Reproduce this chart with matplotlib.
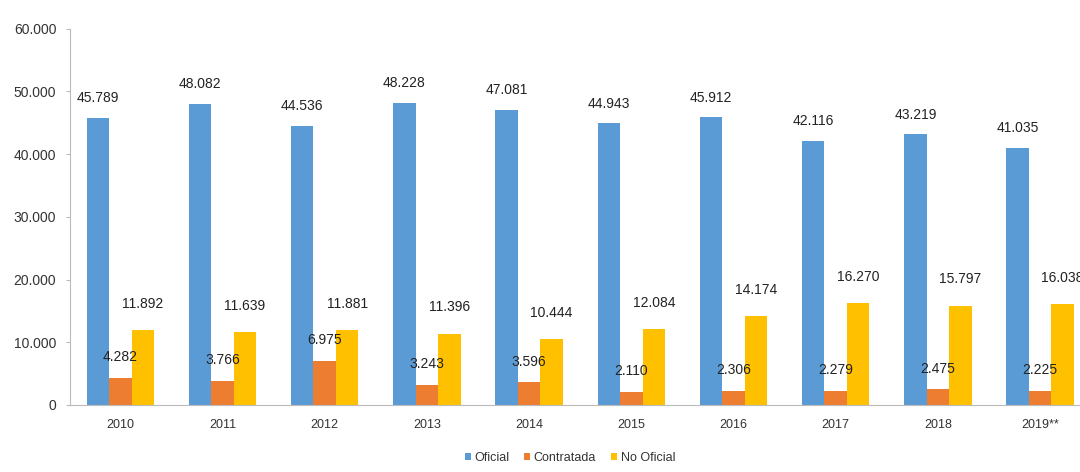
import matplotlib
matplotlib.use('Agg')
import matplotlib.pyplot as plt
import numpy as np

years = ["2010", "2011", "2012", "2013", "2014", "2015", "2016", "2017", "2018", "2019**"]
oficial = [45789, 48082, 44536, 48228, 47081, 44943, 45912, 42116, 43219, 41035]
contratada = [4282, 3766, 6975, 3243, 3596, 2110, 2306, 2279, 2475, 2225]
no_oficial = [11892, 11639, 11881, 11396, 10444, 12084, 14174, 16270, 15797, 16038]


def miles(v):
    return "{:,}".format(int(v)).replace(",", ".")


plt.rcParams['font.family'] = ['Liberation Sans', 'DejaVu Sans']

fig = plt.figure(figsize=(10.8, 4.72), dpi=100)
ax = fig.add_axes([0.065, 0.142, 0.935, 0.797])

x = np.arange(len(years))
w = 0.22
series = [
    ("Oficial", oficial, "#5B9BD5", -w, 9),
    ("Contratada", contratada, "#ED7D31", 0, 10),
    ("No Oficial", no_oficial, "#FFC000", w, 14),
]

for name, vals, col, off, dy in series:
    ax.bar(x + off, vals, width=w, color=col, label=name, edgecolor="none")
    for xi, v in zip(x, vals):
        ax.annotate(miles(v), (xi + off, v), xytext=(0, dy), textcoords="offset points",
                    ha="center", va="bottom", fontsize=10, color="#222222")

ax.set_ylim(0, 60000)
ax.set_xlim(-0.49, 9.39)
ax.set_yticks(range(0, 60001, 10000))
ax.set_yticklabels([miles(t) for t in range(0, 60001, 10000)], fontsize=10, color="#333333")
ax.set_xticks(x)
ax.set_xticklabels(years, fontsize=9, color="#333333")
ax.tick_params(axis="x", length=0, pad=10)
ax.tick_params(axis="y", length=3, color="#bbbbbb", pad=7)

for s in ["top", "right"]:
    ax.spines[s].set_visible(False)
ax.spines["left"].set_color("#bbbbbb")
ax.spines["bottom"].set_color("#bbbbbb")

ax.legend(loc="upper center", bbox_to_anchor=(0.495, -0.095), ncol=3, frameon=False,
          fontsize=9, handlelength=0.45, handleheight=0.45, handletextpad=0.3,
          columnspacing=1.2, labelcolor="#333333")

fig.savefig("out.png", dpi=100)
